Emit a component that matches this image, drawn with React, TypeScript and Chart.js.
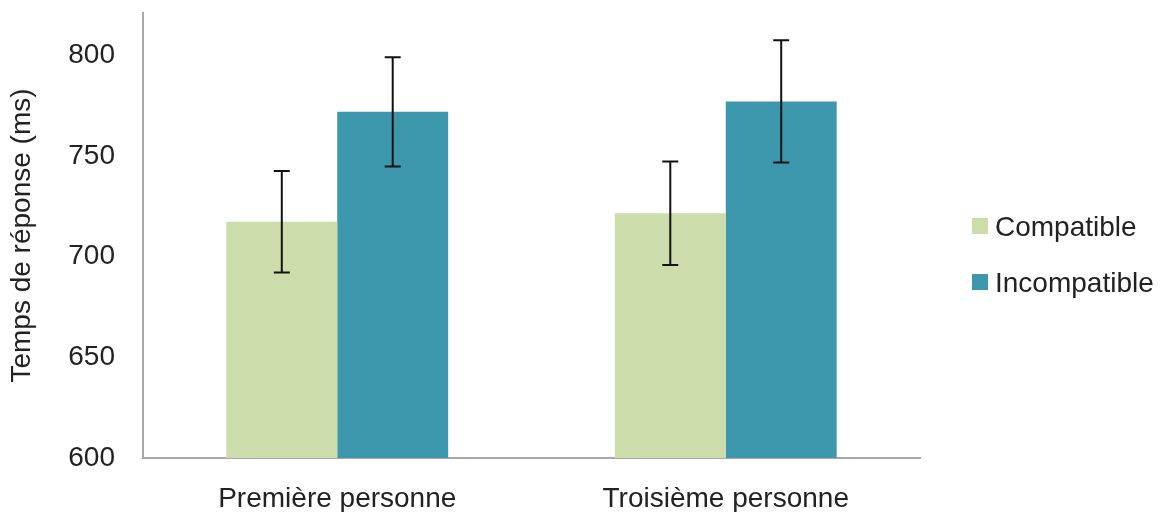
import React, { useEffect, useRef } from "react";
import { Chart, registerables } from "chart.js";

Chart.register(...registerables);

const categories = ["Première personne", "Troisième personne"];
const seriesNames = ["Compatible", "Incompatible"];
const compatibleValues = [717.3, 721.6];
const incompatibleValues = [771.9, 777.1];
const compatibleErrors = [25.2, 25.7];
const incompatibleErrors = [27.1, 30.4];
const yTicks = [600, 650, 700, 750, 800];
const yTitle = "Temps de réponse (ms)";

const colors = ["#CCDCAB", "#3D97AD"];
const FONT = "'Liberation Sans', Arial, Helvetica, sans-serif";
const TEXT = "#222222";

const errorBarPlugin = {
  id: "errorBars",
  afterDatasetsDraw(chart: any) {
    const { ctx } = chart;
    const yScale = chart.scales.y;
    chart.data.datasets.forEach((ds: any, di: number) => {
      const meta = chart.getDatasetMeta(di);
      meta.data.forEach((bar: any, i: number) => {
        const v = ds.data[i];
        const e = ds.errors[i];
        const yHi = yScale.getPixelForValue(v + e);
        const yLo = yScale.getPixelForValue(v - e);
        const x = bar.x;
        ctx.save();
        ctx.strokeStyle = "#111111";
        ctx.lineWidth = 2;
        ctx.beginPath();
        ctx.moveTo(x, yHi);
        ctx.lineTo(x, yLo);
        ctx.moveTo(x - 8, yHi);
        ctx.lineTo(x + 8, yHi);
        ctx.moveTo(x - 8, yLo);
        ctx.lineTo(x + 8, yLo);
        ctx.stroke();
        ctx.restore();
      });
    });
  },
};

const legendPlugin = {
  id: "sideLegend",
  afterDraw(chart: any) {
    const { ctx, chartArea } = chart;
    const x0 = chartArea.right + 52;
    const yCenter = chart.height / 2;
    const spacing = 56;
    const n = chart.data.datasets.length;
    chart.data.datasets.forEach((ds: any, i: number) => {
      const cy = yCenter + (i - (n - 1) / 2) * spacing;
      ctx.save();
      ctx.fillStyle = ds.backgroundColor;
      ctx.fillRect(x0, cy - 10, 16, 16);
      ctx.fillStyle = TEXT;
      ctx.font = `28px ${FONT}`;
      ctx.textAlign = "left";
      ctx.textBaseline = "middle";
      ctx.fillText(ds.label, x0 + 23, cy);
      ctx.restore();
    });
  },
};

export default function App() {
  const ref = useRef<HTMLCanvasElement>(null);
  useEffect(() => {
    if (!ref.current) return;
    const chart = new Chart(ref.current, {
      type: "bar",
      data: {
        labels: categories,
        datasets: [
          {
            label: seriesNames[0],
            data: compatibleValues,
            errors: compatibleErrors,
            backgroundColor: colors[0],
            categoryPercentage: 0.571,
            barPercentage: 1,
          } as any,
          {
            label: seriesNames[1],
            data: incompatibleValues,
            errors: incompatibleErrors,
            backgroundColor: colors[1],
            categoryPercentage: 0.571,
            barPercentage: 1,
          } as any,
        ],
      },
      options: {
        responsive: false,
        animation: false,
        layout: { padding: { top: 13, right: 242, bottom: 0, left: 0 } },
        plugins: {
          legend: { display: false },
          tooltip: { enabled: false },
        },
        scales: {
          x: {
            afterFit(scale: any) {
              scale.height = 54;
              scale.paddingLeft = 0;
              scale.paddingRight = 0;
            },
            grid: { display: true, drawOnChartArea: false, drawTicks: false },
            border: { display: true, color: "#A8A8A8", width: 2 },
            ticks: {
              padding: 24,
              color: TEXT,
              font: { family: FONT, size: 28 },
            },
          },
          y: {
            min: 600,
            max: 821,
            afterBuildTicks(scale: any) {
              scale.ticks = yTicks.map((v) => ({ value: v }));
            },
            afterFit(scale: any) {
              scale.width = 143;
              scale.paddingTop = 0;
              scale.paddingBottom = 0;
            },
            grid: { display: true, drawOnChartArea: false, drawTicks: false },
            border: { display: true, color: "#A8A8A8", width: 2 },
            ticks: {
              padding: 28,
              color: TEXT,
              font: { family: FONT, size: 28 },
            },
            title: {
              display: true,
              text: yTitle,
              color: TEXT,
              font: { family: FONT, size: 28 },
              padding: { top: 5, bottom: 0 },
            },
          },
        },
      },
      plugins: [errorBarPlugin, legendPlugin],
    });
    return () => chart.destroy();
  }, []);
  return (
    <div style={{ position: "fixed", left: 0, top: 0, width: 1162, height: 512, background: "#fff" }}>
      <canvas ref={ref} width={1162} height={512} />
    </div>
  );
}
